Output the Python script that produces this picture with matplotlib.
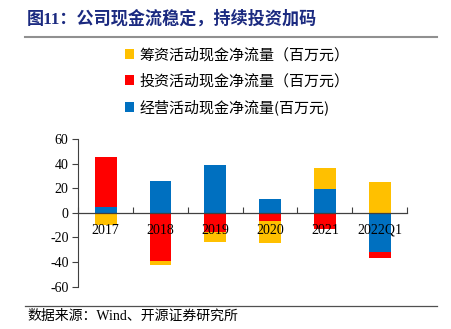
import numpy as np
import matplotlib
matplotlib.use("Agg")
import matplotlib.pyplot as plt
from matplotlib.lines import Line2D
from matplotlib.patches import Patch

plt.rcParams['font.family'] = ['Liberation Serif', 'Noto Sans CJK SC', 'DejaVu Sans']

categories = ['2017', '2018', '2019', '2020', '2021', '2022Q1']
operating = [5, 26, 39, 11.5, 19.5, -32]      # 经营活动
investing = [40, -39, -15.5, -6.5, -13.5, -5]  # 投资活动
financing = [-10, -3, -8, -18, 17, 25]         # 筹资活动
labels = ['经营活动现金净流量(百万元)', '投资活动现金净流量（百万元）', '筹资活动现金净流量（百万元）']
colors = ['#0070C0', '#FF0000', '#FFC000']
yticks = [-60, -40, -20, 0, 20, 40, 60]

W, H = 452, 329
fig = plt.figure(figsize=(W / 100, H / 100), dpi=100)
ax = fig.add_axes([78.3 / W, 1 - 286.7 / H, (407 - 78.3) / W, (286.7 - 139) / H])
ax.set_axisbelow(False)

x = np.arange(len(categories))
pos_bottom = np.zeros(len(categories))
neg_bottom = np.zeros(len(categories))
handles = []
for vals, col, lab in zip([operating, investing, financing], colors, labels):
    v = np.array(vals, dtype=float)
    bottom = np.where(v >= 0, pos_bottom, neg_bottom)
    ax.bar(x, v, width=0.4, bottom=bottom, color=col, zorder=2)
    pos_bottom = pos_bottom + np.where(v >= 0, v, 0)
    neg_bottom = neg_bottom + np.where(v < 0, v, 0)
    handles.append(Patch(facecolor=col, label=lab))

ax.set_xlim(-0.5, len(categories) - 0.5)
ax.set_ylim(-60, 60)
ax.set_yticks(yticks)
ax.set_yticklabels([str(t) for t in yticks], fontsize=10)
ax.tick_params(axis='y', direction='out', length=4, width=0.8, color='#404040', pad=3)

for s in ['top', 'right']:
    ax.spines[s].set_visible(False)
ax.spines['left'].set_color('#404040')
ax.spines['left'].set_linewidth(0.8)
ax.spines['bottom'].set_position(('data', 0))
ax.spines['bottom'].set_color('#404040')
ax.spines['bottom'].set_linewidth(0.9)

ax.set_xticks(np.arange(len(categories) + 1) - 0.5)
ax.set_xticklabels([])
ax.tick_params(axis='x', which='major', direction='in', length=4, width=0.8, color='#404040')
ax.set_xticks(x, minor=True)
ax.set_xticklabels(categories, minor=True, fontsize=10)
ax.tick_params(axis='x', which='minor', length=0, pad=8)

ax.set_facecolor('none')

leg = fig.legend(handles=handles[::-1], loc='upper left',
                 bbox_to_anchor=(125 / W, 1 - 48 / H), frameon=False,
                 handlelength=0.6, handleheight=0.6, handletextpad=0.35,
                 labelspacing=0.75, borderpad=0, borderaxespad=0,
                 prop={'family': ['Noto Sans CJK SC'], 'size': 10.8})

fig.text(27 / W, 1 - 19 / H, '图11：公司现金流稳定，持续投资加码', fontsize=12.3,
         fontweight='bold', color='#1B2A80', va='center', ha='left',
         family=['Liberation Serif', 'Noto Sans CJK SC'])
fig.add_artist(Line2D([25 / W, 437 / W], [1 - 37 / H, 1 - 37 / H], color='#909090', lw=1.5))
fig.add_artist(Line2D([25 / W, 437 / W], [1 - 305.5 / H, 1 - 305.5 / H], color='#505050', lw=0.9))
fig.text(27 / W, 1 - 316 / H, '数据来源：Wind、开源证券研究所', fontsize=10, va='center', ha='left',
         family=['Liberation Serif', 'Noto Sans CJK SC'])

fig.savefig('out.png', dpi=100)
